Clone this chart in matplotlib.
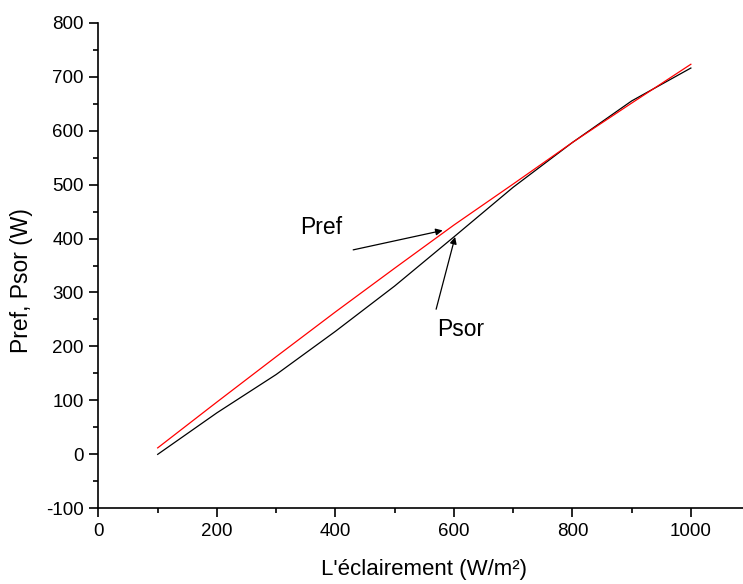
import matplotlib
matplotlib.use("Agg")
import matplotlib.pyplot as plt
from matplotlib.ticker import MultipleLocator

plt.rcParams['font.family'] = ['Liberation Sans', 'DejaVu Sans']
plt.rcParams['axes.unicode_minus'] = False

eclairement = [100, 200, 300, 400, 500, 600, 700, 800, 900, 1000]
pref = [12, 97, 181, 264, 345, 425, 501, 578, 651, 723]
psor = [0, 77, 148, 228, 312, 403, 495, 578, 655, 716]

xlabel = "L'éclairement (W/m²)"
ylabel = "Pref, Psor (W)"

fig = plt.figure(figsize=(7.43, 5.84), dpi=100)
ax = fig.add_axes([0.1325, 0.1296, 0.8675, 0.8315])

ax.plot(eclairement, psor, color='black', lw=0.9)
ax.plot(eclairement, pref, color='#ff0000', lw=0.9)

ax.set_xlim(0, 1088)
ax.set_ylim(-100, 800)
ax.xaxis.set_major_locator(MultipleLocator(200))
ax.xaxis.set_minor_locator(MultipleLocator(100))
ax.yaxis.set_major_locator(MultipleLocator(100))
ax.yaxis.set_minor_locator(MultipleLocator(50))

for s in ['top', 'right']:
    ax.spines[s].set_visible(False)
for s in ['left', 'bottom']:
    ax.spines[s].set_linewidth(1.2)

ax.tick_params(which='major', direction='out', length=6.5, width=1.2, labelsize=13.5, pad=4)
ax.tick_params(which='minor', direction='out', length=3.6, width=1.2)

ax.set_xlabel(xlabel, fontsize=16, labelpad=10)
ax.set_ylabel(ylabel, fontsize=16.5)
ax.yaxis.set_label_coords(-0.101, 0.47)
ax.xaxis.set_label_coords(0.5055, -0.104)

arrow = dict(arrowstyle='-|>', color='black', lw=0.9, mutation_scale=10, shrinkA=0, shrinkB=0)
ax.annotate('', xy=(581, 415), xytext=(430, 379), arrowprops=arrow)
ax.annotate('', xy=(602, 403), xytext=(570, 269), arrowprops=arrow)
ax.text(341, 420, 'Pref', fontsize=16.5, ha='left', va='center')
ax.text(572, 231, 'Psor', fontsize=16.5, ha='left', va='center')

fig.savefig('out.png', dpi=100)
